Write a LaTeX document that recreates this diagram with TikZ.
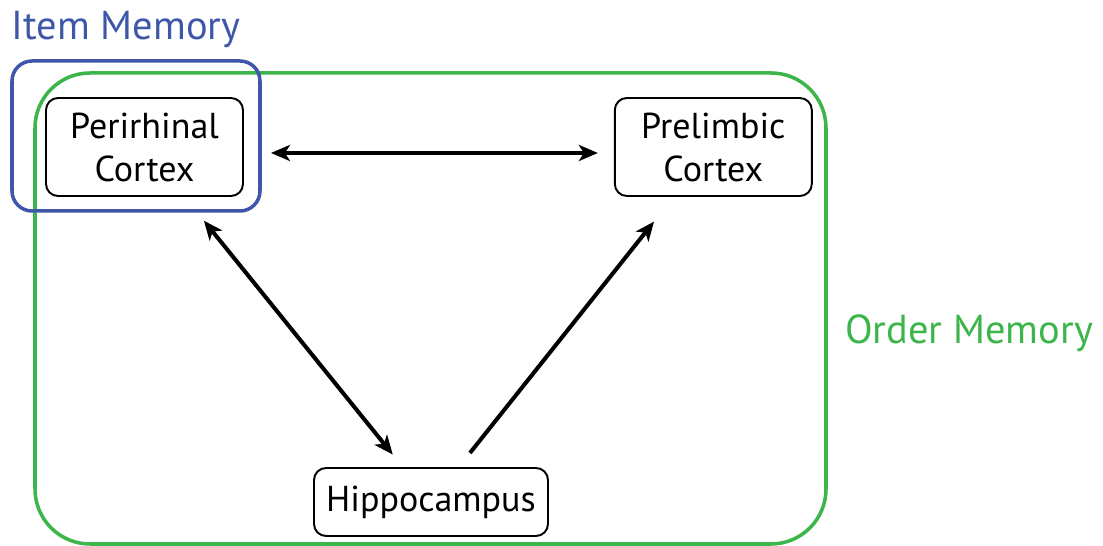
\documentclass[tikz,border=0pt]{standalone}
\usepackage{fontspec}
\setmainfont{PT Sans}
\usetikzlibrary{arrows.meta,positioning}
\definecolor{itemblue}{HTML}{3F57A7}
\definecolor{ordergreen}{HTML}{3CB54A}
\begin{document}
\begin{tikzpicture}[x=0.02cm, y=-0.02cm, >={Stealth[length=3.8mm,width=3.2mm,inset=1mm]},
        main/.style = {draw, rounded corners=0.24cm, line width=1.1pt, align=center, inner sep=0pt, font=\fontsize{20.5}{24.5}\selectfont},
        region/.style = {line width=2pt},
        link/.style = {line width=2.3pt},
        title/.style = {font=\fontsize{23}{28}\selectfont}]
        \useasboundingbox (0,0) rectangle (1103,546);
        % memory regions
        \draw[region, ordergreen, rounded corners=1.1cm] (35,73) rectangle (826,544);
        \draw[region, itemblue, rounded corners=0.4cm] (12,61) rectangle (260,211);
        \node[title, text=itemblue] (item) at (126,30) {Item Memory};
        \node[title, text=ordergreen] (order) at (969,333) {Order Memory};
        % areas
        \node[main, minimum width=3.94cm, minimum height=1.96cm] (peri) at (144.5,147) {Perirhinal\\Cortex};
        \node[main, minimum width=3.94cm, minimum height=1.96cm, right=7.4cm of peri] (preli) {Prelimbic\\Cortex};
        \node[main, minimum width=4.68cm, minimum height=1.36cm] (hippo) at (431,502) {Hippocampus};
        % connections
        \draw[link, <->, shorten <=0.54cm, shorten >=0.32cm] ([yshift=-0.12cm]peri.east) -- ([yshift=-0.12cm]preli.west);
        \draw[link, <->, shorten <=0.61cm, shorten >=0.32cm] (peri) -- (hippo);
        \draw[link, ->, shorten <=0.36cm, shorten >=0.63cm] (hippo) -- (preli);
    \end{tikzpicture}
\end{document}
